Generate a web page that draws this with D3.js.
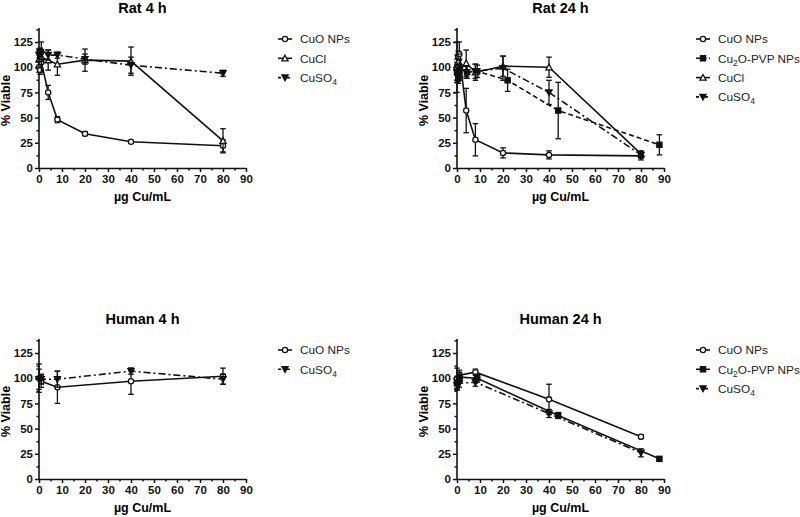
<!DOCTYPE html>
<html>
<head>
<meta charset="utf-8">
<script src="https://cdn.jsdelivr.net/npm/d3@7"></script>
<style>
  body { margin: 0; background: #fff; }
  svg { font-family: "Liberation Sans", Arial, sans-serif; }
</style>
</head>
<body>
<div id="viz"></div>
<script>
// doses (µg Cu/mL)
const doseRat = [0, 0.5, 1, 4, 8, 20, 40, 80];
const doseRatCu2O = [0, 0.55, 1.1, 4.4, 8.8, 22, 44, 88];
const doseHuman = [0, 1, 8, 40, 80];
const doseHumanCu2O = [0, 1.1, 8.8, 44, 88];

// Rat 4 h
const rat4CuO = [100, 97, 105, 75, 48, 34, 26, 22];
const rat4CuOErr = [5, 4, 8, 7, 3, 2, 1, 6];
const rat4CuCl = [108, 112, 110, 107, 103, 107, 106, 27];
const rat4CuClErr = [8, 6, 15, 10, 11, 11, 14, 12];
const rat4CuSO4 = [112, 115, 113, 112, 112, 108, 102, 94];
const rat4CuSO4Err = [6, 4, 4, 5, 3, 5, 8, 3];

// Rat 24 h
const rat24CuO = [100, 110, 113, 57, 28, 15, 13, 12];
const rat24CuOErr = [8, 6, 12, 22, 16, 5, 4, 4];
const rat24Cu2O = [95, 90, 100, 95, 96, 87, 57, 23];
const rat24Cu2OErr = [10, 6, 8, 6, 6, 11, 28, 10];
const rat24CuCl = [100, 105, 97, 104, 95, 101, 100, 14];
const rat24CuClErr = [25, 8, 10, 13, 8, 10, 10, 3];
const rat24CuSO4 = [95, 92, 97, 95, 96, 99, 75, 13];
const rat24CuSO4Err = [8, 6, 7, 6, 7, 12, 12, 3];

// Human 4 h
const human4CuO = [100, 97, 91, 97, 102];
const human4CuOErr = [14, 6, 16, 13, 8];
const human4CuSO4 = [99, 99, 99, 107, 99];
const human4CuSO4Err = [10, 5, 8, 3, 5];

// Human 24 h
const human24CuO = [100, 103, 106, 79, 42];
const human24CuOErr = [10, 5, 3, 15, 2];
const human24Cu2O = [95, 101, 100, 63, 20];
const human24Cu2OErr = [6, 5, 4, 3, 2];
const human24CuSO4 = [93, 95, 96, 65, 26];
const human24CuSO4Err = [5, 4, 4, 4, 4];

const xTicks = [0, 10, 20, 30, 40, 50, 60, 70, 80, 90];
const yTicks = [0, 25, 50, 75, 100, 125];

// series styles
const styles = {
  CuO: { name: ["CuO NPs"], dash: null, legendDash: null, marker: "circle", fill: false },
  Cu2O: { name: ["Cu", "2", "O-PVP NPs"], dash: "5,3", legendDash: "4,2.5", marker: "square", fill: true },
  CuCl: { name: ["CuCl"], dash: null, legendDash: null, marker: "triangle", fill: false },
  CuSO4: { name: ["CuSO", "4", ""], dash: "7,3,2,3", legendDash: "3,2,2,2", marker: "down", fill: true }
};

function zip(xs, ys, es) {
  return xs.map((x, i) => ({ x: x, y: ys[i], e: es[i] }));
}

const panels = [
  {
    title: "Rat 4 h", left: 39, bottom: 168,
    series: [
      ["CuO", zip(doseRat, rat4CuO, rat4CuOErr)],
      ["CuCl", zip(doseRat, rat4CuCl, rat4CuClErr)],
      ["CuSO4", zip(doseRat, rat4CuSO4, rat4CuSO4Err)]
    ]
  },
  {
    title: "Rat 24 h", left: 457, bottom: 168,
    series: [
      ["CuO", zip(doseRat, rat24CuO, rat24CuOErr)],
      ["Cu2O", zip(doseRatCu2O, rat24Cu2O, rat24Cu2OErr)],
      ["CuCl", zip(doseRat, rat24CuCl, rat24CuClErr)],
      ["CuSO4", zip(doseRat, rat24CuSO4, rat24CuSO4Err)]
    ]
  },
  {
    title: "Human 4 h", left: 39, bottom: 479,
    series: [
      ["CuO", zip(doseHuman, human4CuO, human4CuOErr)],
      ["CuSO4", zip(doseHuman, human4CuSO4, human4CuSO4Err)]
    ]
  },
  {
    title: "Human 24 h", left: 457, bottom: 479,
    series: [
      ["CuO", zip(doseHuman, human24CuO, human24CuOErr)],
      ["Cu2O", zip(doseHumanCu2O, human24Cu2O, human24Cu2OErr), "solid"],
      ["CuSO4", zip(doseHuman, human24CuSO4, human24CuSO4Err)]
    ]
  }
];

const svg = d3.select("#viz").append("svg")
  .attr("width", 800)
  .attr("height", 517);

function drawMarker(g, type, fill, x, y) {
  const s = 2.6;
  let m;
  if (type === "circle") {
    m = g.append("circle").attr("cx", x).attr("cy", y).attr("r", s);
  } else if (type === "square") {
    m = g.append("rect").attr("x", x - s).attr("y", y - s)
      .attr("width", 2 * s).attr("height", 2 * s);
  } else if (type === "triangle") {
    m = g.append("path")
      .attr("d", `M${x},${y - s - 0.5}L${x + s + 0.5},${y + s}L${x - s - 0.5},${y + s}Z`);
  } else {
    m = g.append("path")
      .attr("d", `M${x},${y + s + 0.5}L${x + s + 0.5},${y - s}L${x - s - 0.5},${y - s}Z`);
  }
  m.attr("fill", fill ? "#111" : "#fff").attr("stroke", "#111").attr("stroke-width", 1.3);
}

function drawPanel(p) {
  const x = d3.scaleLinear().domain([0, 90]).range([p.left, p.left + 207]);
  const y = d3.scaleLinear().domain([0, 125]).range([p.bottom, p.bottom - 126]);
  const top = y(139);
  const cx = p.left + 103.5;

  const g = svg.append("g");

  // title
  g.append("text")
    .attr("x", cx).attr("y", p.bottom - 155)
    .attr("text-anchor", "middle")
    .style("font-size", "14.5px").style("font-weight", "bold")
    .text(p.title);

  // minor ticks
  g.append("g").attr("transform", `translate(0,${p.bottom})`)
    .call(d3.axisBottom(x).tickValues(d3.range(5, 90, 10)).tickSize(2.5).tickFormat(""))
    .call((a) => a.select(".domain").remove());
  g.append("g").attr("transform", `translate(${p.left},0)`)
    .call(d3.axisLeft(y).tickValues(d3.range(12.5, 139, 25)).tickSize(2.5).tickFormat(""))
    .call((a) => a.select(".domain").remove());

  // x axis
  const xa = g.append("g").attr("transform", `translate(0,${p.bottom})`)
    .call(d3.axisBottom(x).tickValues(xTicks).tickSize(4).tickSizeOuter(0).tickPadding(3));
  // y axis
  const ya = g.append("g").attr("transform", `translate(${p.left},0)`)
    .call(d3.axisLeft(y).tickValues(yTicks).tickSize(4).tickSizeOuter(0).tickPadding(2));
  ya.select(".domain").attr("d", `M0,${p.bottom}V${top}`);

  [xa, ya].forEach((a) => {
    a.selectAll("path, line").attr("stroke", "#111").attr("stroke-width", 1.6);
    a.selectAll("text").attr("fill", "#111")
      .style("font-size", "11.5px").style("font-weight", "bold")
      .style("font-family", "Liberation Sans, Arial, sans-serif");
  });
  g.selectAll(".tick line").attr("stroke", "#111").attr("stroke-width", 1.5);

  // axis titles
  g.append("text")
    .attr("x", cx).attr("y", p.bottom + 33)
    .attr("text-anchor", "middle")
    .style("font-size", "12.5px").style("font-weight", "bold")
    .text("\u00b5g Cu/mL");
  g.append("text")
    .attr("transform", `translate(${p.left - 29},${y(67)}) rotate(-90)`)
    .attr("text-anchor", "middle")
    .style("font-size", "12.5px").style("font-weight", "bold")
    .text("% Viable");

  // series
  const line = d3.line().x((d) => x(d.x)).y((d) => y(d.y));
  p.series.forEach(([key, data, override]) => {
    const st = styles[key];
    const solid = override === "solid";
    const sg = g.append("g");
    sg.append("path")
      .datum(data)
      .attr("d", line)
      .attr("fill", "none")
      .attr("stroke", "#111")
      .attr("stroke-width", 1.6)
      .attr("stroke-dasharray", solid ? null : st.dash);
    // error bars
    data.forEach((d) => {
      if (!d.e) return;
      const px = x(d.x);
      sg.append("line")
        .attr("x1", px).attr("x2", px)
        .attr("y1", y(d.y - d.e)).attr("y2", y(d.y + d.e))
        .attr("stroke", "#111").attr("stroke-width", 1.3);
      [d.y - d.e, d.y + d.e].forEach((v) => {
        sg.append("line")
          .attr("x1", px - 2.8).attr("x2", px + 2.8)
          .attr("y1", y(v)).attr("y2", y(v))
          .attr("stroke", "#111").attr("stroke-width", 1.3);
      });
    });
    data.forEach((d) => drawMarker(sg, st.marker, st.fill, x(d.x), y(d.y)));
  });

  // legend
  const lx = p.left + 239;
  const ly = p.bottom - 129;
  p.series.forEach(([key, , override], i) => {
    const st = styles[key];
    const yy = ly + i * 19.3;
    const lg = g.append("g");
    lg.append("line")
      .attr("x1", lx).attr("x2", lx + 14)
      .attr("y1", yy).attr("y2", yy)
      .attr("stroke", "#111").attr("stroke-width", 1.6)
      .attr("stroke-dasharray", override === "solid" ? null : st.legendDash);
    drawMarker(lg, st.marker, st.fill, lx + 7, yy);
    const t = lg.append("text")
      .attr("x", lx + 22).attr("y", yy + 4.3)
      .style("font-size", "11.8px")
      .attr("fill", "#222");
    t.append("tspan").text(st.name[0]);
    if (st.name.length > 1) {
      t.append("tspan").attr("dy", 3).style("font-size", "8.5px").text(st.name[1]);
      t.append("tspan").attr("dy", -3).text(st.name[2]);
    }
  });
}

panels.forEach(drawPanel);
</script>
</body>
</html>
